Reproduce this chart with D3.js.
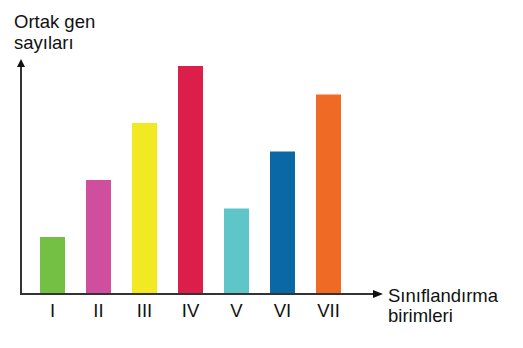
<!DOCTYPE html>
<html>
<head>
<meta charset="utf-8">
<script src="https://cdn.jsdelivr.net/npm/d3@7"></script>
<style>
html,body{margin:0;padding:0;background:#fff;}
svg{display:block;}
text{font-family:"Liberation Sans",Arial,sans-serif;fill:#111;}
</style>
</head>
<body>
<svg id="chart" width="523" height="348"></svg>
<script>
const categories = ["I","II","III","IV","V","VI","VII"];
const values = [2,4,6,8,3,5,7];
const colors = ["#74C044","#D04E9E","#F2E923","#DC1E4A","#5EC6C8","#0A69A4","#EE6A25"];
const yTitle = ["Ortak gen","sayıları"];
const xTitle = ["Sınıflandırma","birimleri"];

const svg = d3.select("#chart");
const x0 = 21, y0 = 294;
const x = d3.scaleBand().domain(categories).range([40,341]).paddingInner(21/46).paddingOuter(0);
const y = d3.scaleLinear().domain([0,8]).range([y0,66]);

svg.selectAll("rect.bar").data(values).enter().append("rect")
  .attr("class","bar")
  .attr("x",(d,i)=>x(categories[i]))
  .attr("y",d=>y(d))
  .attr("width",x.bandwidth())
  .attr("height",d=>y0-y(d))
  .attr("fill",(d,i)=>colors[i]);

// axes
const axisColor = "#333";
svg.append("line").attr("x1",x0).attr("x2",x0).attr("y1",y0+1).attr("y2",64)
  .attr("stroke",axisColor).attr("stroke-width",2);
svg.append("path").attr("d",`M${x0},59 L${x0-4},67 L${x0+4},67 Z`).attr("fill","#111");
svg.append("line").attr("x1",x0-1).attr("x2",376).attr("y1",y0).attr("y2",y0)
  .attr("stroke",axisColor).attr("stroke-width",2);
svg.append("path").attr("d",`M383,${y0} L373,${y0-4} L373,${y0+4} Z`).attr("fill","#111");

// tick labels
svg.selectAll("text.tick").data(categories).enter().append("text")
  .attr("class","tick")
  .attr("x",d=>x(d)+x.bandwidth()/2)
  .attr("y",317)
  .attr("text-anchor","middle")
  .attr("font-size",18.5)
  .text(d=>d);

// titles
yTitle.forEach((t,i)=>svg.append("text").attr("x",14).attr("y",28+i*21).attr("font-size",18.5).text(t));
xTitle.forEach((t,i)=>svg.append("text").attr("x",388).attr("y",302+i*20).attr("font-size",18.5).text(t));
</script>
</body>
</html>
